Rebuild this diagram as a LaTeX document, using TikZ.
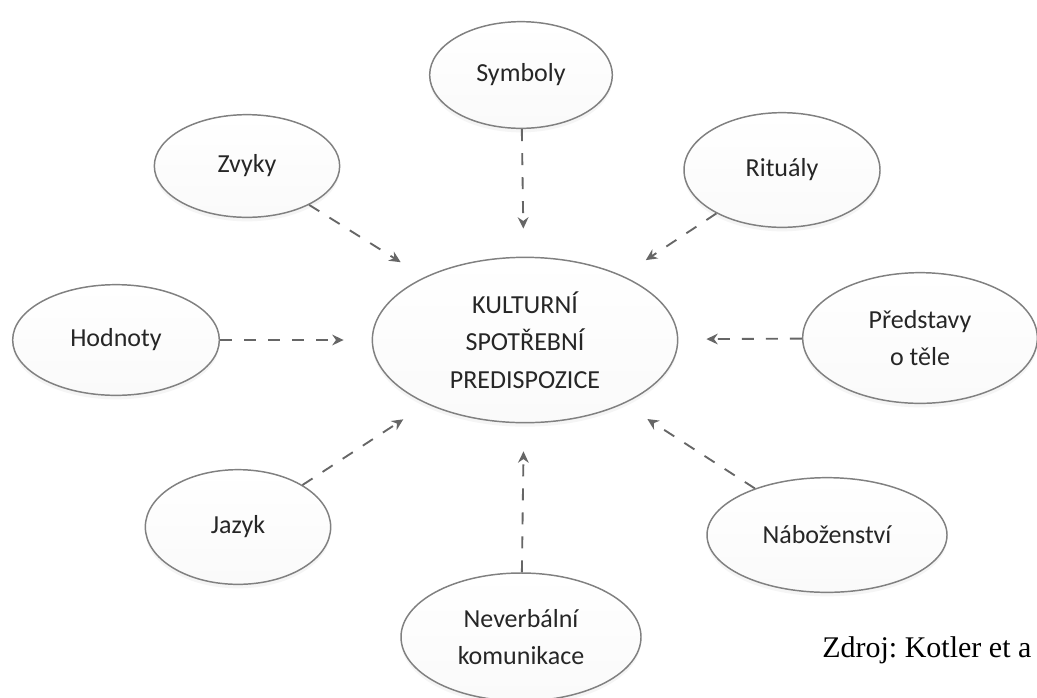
\documentclass[tikz,border=0pt]{standalone}
\usepackage{fontspec}
\setmainfont{Carlito}
\newfontfamily\zdrojfont{Liberation Serif}
\usetikzlibrary{shapes,arrows,arrows.meta,shadows}
\frenchspacing

\begin{document}
\begin{tikzpicture}[
      x=0.75pt, y=-0.75pt,
      bubble/.style={ellipse, draw=black!50, line width=1.1pt, top color=white, bottom color=black!2, drop shadow={opacity=0.08, shadow xshift=0pt, shadow yshift=-3pt}, text=black!85, font=\fontsize{19.5}{28}\selectfont, align=center, inner sep=0pt},
      arrow/.style={draw=black!60, line width=1.4pt, dash pattern=on 9pt off 9pt, ->, >={Stealth[length=8.5pt,width=8pt]}, shorten >=21pt}
    ]
      \useasboundingbox [fill=white] (0,0) rectangle (1037,697);

      \node [bubble, minimum width=229pt, minimum height=124pt] (core) at (525,340) {KULTURNÍ\\SPOTŘEBNÍ\\PREDISPOZICE};
      \node [bubble, minimum width=137pt, minimum height=80pt] (symboly) at (521,75) {Symboly};
      \node [bubble, minimum width=139pt, minimum height=77pt] (zvyky) at (247,166) {Zvyky};
      \node [bubble, minimum width=147pt, minimum height=86pt] (ritualy) at (782,170) {Rituály};
      \node [bubble, minimum width=155pt, minimum height=83pt] (hodnoty) at (116,340) {Hodnoty};
      \node [bubble, minimum width=176pt, minimum height=98pt] (predstavy) at (920,338) {Představy\\o těle};
      \node [bubble, minimum width=139pt, minimum height=86pt] (jazyk) at (238,527) {Jazyk};
      \node [bubble, minimum width=180pt, minimum height=86pt] (nabozenstvi) at (827,535) {Náboženství};
      \node [bubble, minimum width=180pt, minimum height=96pt] (neverbalni) at (521,637) {Neverbální\\komunikace};

      \node [font=\zdrojfont\fontsize{22.5}{26}\selectfont, anchor=base west, inner sep=0pt] (zdroj) at (822,657) {Zdroj: Kotler et a};

      \draw [arrow] (symboly) -- (core);
      \draw [arrow] (zvyky) -- (core);
      \draw [arrow] (ritualy) -- (core);
      \draw [arrow] (hodnoty) -- (core);
      \draw [arrow] (predstavy) -- (core);
      \draw [arrow] (jazyk) -- (core);
      \draw [arrow] (nabozenstvi) -- (core);
      \draw [arrow] (neverbalni) -- (core);
    \end{tikzpicture}
\end{document}
